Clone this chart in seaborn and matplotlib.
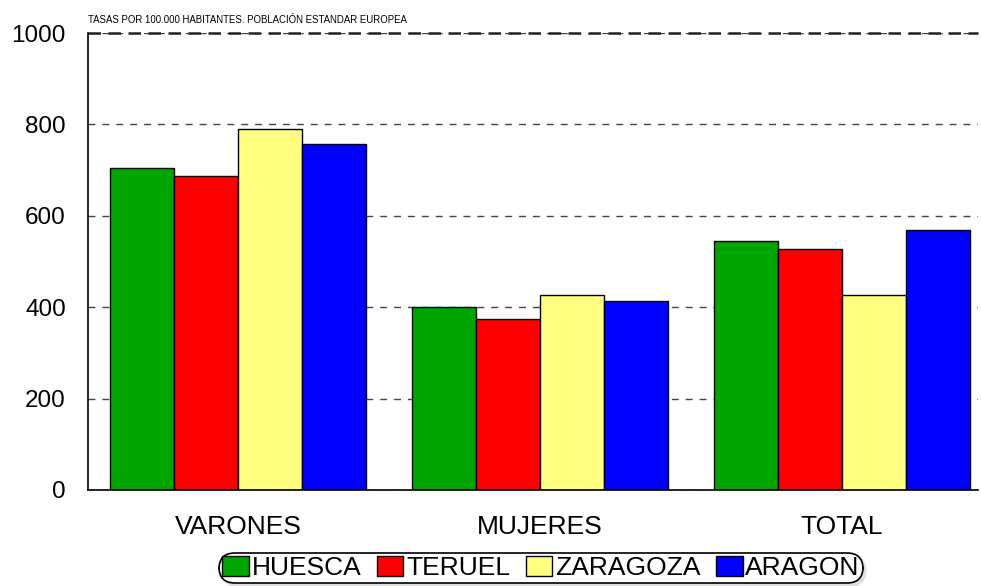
import numpy as np
import pandas as pd
import matplotlib
matplotlib.use("Agg")
import matplotlib.pyplot as plt
import seaborn as sns

categories = ["VARONES", "MUJERES", "TOTAL"]
provinces = ["HUESCA", "TERUEL", "ZARAGOZA", "ARAGON"]
huesca = [704, 400, 544]
teruel = [687, 374, 527]
zaragoza = [790, 426, 426]
aragon = [757, 413, 569]
colors = ["#00A600", "#FF0000", "#FFFF80", "#0000FF"]
yticks = [0, 200, 400, 600, 800, 1000]

rows = []
for prov, vals in zip(provinces, [huesca, teruel, zaragoza, aragon]):
    for cat, v in zip(categories, vals):
        rows.append({"grupo": cat, "provincia": prov, "tasa": v})
df = pd.DataFrame(rows)

sns.set_style("white")
plt.rcParams['font.family'] = ['Liberation Sans', 'DejaVu Sans']
plt.rcParams['text.color'] = 'black'
plt.rcParams['xtick.color'] = 'black'
plt.rcParams['ytick.color'] = 'black'

fig = plt.figure(figsize=(9.81, 5.86), dpi=100)
ax = fig.add_axes([88 / 981, 1 - 490 / 586, 890 / 981, 457 / 586])

sns.barplot(data=df, x="grupo", y="tasa", hue="provincia", order=categories,
            hue_order=provinces, palette=colors, width=0.848, gap=0,
            edgecolor="black", linewidth=1.0, saturation=1, legend=False, ax=ax)

ax.set_ylim(0, 1000)
ax.set_xlim(-0.497, 2.45)
ax.set_yticks(yticks)
ax.set_yticklabels([str(t) for t in yticks], fontsize=17.5)
ax.tick_params(axis="y", length=0, pad=16)
ax.tick_params(axis="x", length=10, color="#444444", labelsize=19, pad=8, direction="out")
ax.set_xlabel("")
ax.set_ylabel("")
ax.yaxis.grid(True, linestyle=(0, (5, 5)), color="#444444", linewidth=1)
ax.set_axisbelow(True)
for s in ["top", "right"]:
    ax.spines[s].set_visible(False)
for s in ["left", "bottom"]:
    ax.spines[s].set_color("black")
    ax.spines[s].set_linewidth(1.2)
ax.axhline(1000, color="#222222", linestyle=(0, (5, 3)), linewidth=1.8, clip_on=False)

fig.text(88 / 981, 1 - 20 / 586, "TASAS POR 100.000 HABITANTES. POBLACIÓN ESTANDAR EUROPEA",
         fontsize=6.9, ha="left", va="center")

handles = [plt.Rectangle((0, 0), 1, 1, facecolor=c, edgecolor="black", linewidth=1) for c in colors]
leg = fig.legend(handles, provinces, loc="center", bbox_to_anchor=(541 / 981, 1 - 568 / 586),
                 ncol=4, fontsize=19, frameon=True, fancybox=True,
                 shadow={"color": "0.87", "alpha": 1}, handlelength=1.0, handleheight=0.8,
                 handletextpad=0.1, columnspacing=0.6, borderpad=0.12, borderaxespad=0)
leg.get_frame().set_edgecolor("black")
leg.get_frame().set_linewidth(1.2)
leg.get_frame().set_boxstyle("round", pad=0.0, rounding_size=0.6)

fig.savefig("out.png", dpi=100)
